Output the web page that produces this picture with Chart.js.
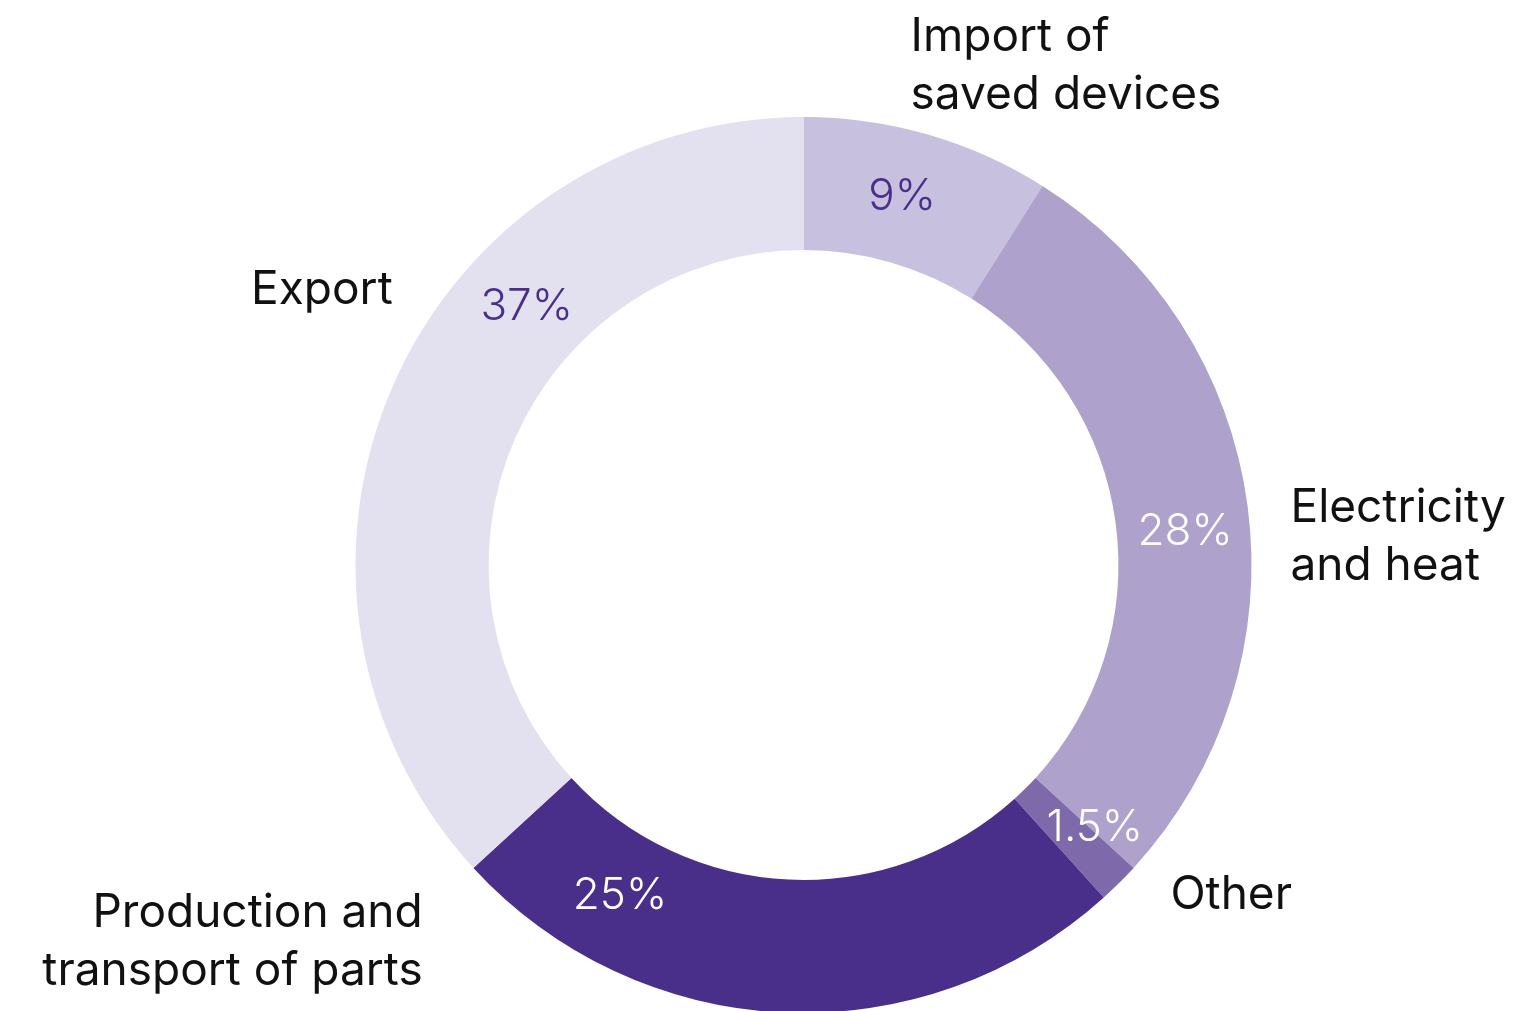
<!DOCTYPE html>
<html lang="en">
<head>
    <meta charset="UTF-8">
    <title>Emissions breakdown</title>
    <script src="https://cdn.jsdelivr.net/npm/chart.js"></script>
    <style>
        html, body {
            margin: 0;
            padding: 0;
            background: #ffffff;
            overflow: hidden;
        }
        .chart-wrap {
            position: relative;
            width: 1522px;
            height: 1020px;
        }
    </style>
</head>
<body>

<div class="chart-wrap">
    <canvas id="donut"></canvas>
</div>

<script>
// Segments, clockwise from the top
const labels = [
    ['Import of', 'saved devices'],
    ['Electricity', 'and heat'],
    ['Other'],
    ['Production and', 'transport of parts'],
    ['Export']
];
const shares = [9, 28, 1.5, 25, 37];
const shareText = ['9%', '28%', '1.5%', '25%', '37%'];

const sliceColors = ['#c7c0de', '#aea1cb', '#7e6aab', '#4a2f8a', '#e3e0ef'];
const valueColors = ['#4a2f8a', '#ffffff', '#ffffff', '#ffffff', '#4a2f8a'];

// where the % text sits: angle (deg, clockwise from top) and radius as share of outer radius
const valueAnchors = [
    { angle: 15, r: 0.85 },
    { angle: 85, r: 0.855 },
    { angle: 132, r: 0.875 },
    { angle: 209, r: 0.845 },
    { angle: 313, r: 0.845 }
];

// category names: offset from the centre in outer-radius units, plus alignment
const nameAnchors = [
    { dx: 0.239, dy: -1.179, align: 'left' },
    { dx: 1.087, dy: -0.127, align: 'left' },
    { dx: 0.819, dy: 0.737, align: 'left' },
    { dx: -0.850, dy: 0.777, align: 'right' },
    { dx: -0.917, dy: -0.614, align: 'right' }
];

const FONT = '"Inter", "Lato", sans-serif';

const ringLabels = {
    id: 'ringLabels',
    afterDatasetsDraw(chart) {
        const arc = chart.getDatasetMeta(0).data[0];
        const cx = arc.x, cy = arc.y, R = arc.outerRadius;
        const ctx = chart.ctx;
        ctx.save();
        ctx.textBaseline = 'middle';

        // percentages inside the ring
        ctx.font = '300 44px ' + FONT;
        ctx.textAlign = 'center';
        shareText.forEach((txt, i) => {
            const a = valueAnchors[i].angle * Math.PI / 180;
            const r = valueAnchors[i].r * R;
            ctx.fillStyle = valueColors[i];
            ctx.fillText(txt, cx + r * Math.sin(a), cy - r * Math.cos(a));
        });

        // category names outside
        ctx.font = '400 46px ' + FONT;
        ctx.fillStyle = '#111111';
        const lineH = 58;
        labels.forEach((lines, i) => {
            const p = nameAnchors[i];
            ctx.textAlign = p.align;
            lines.forEach((line, k) => {
                ctx.fillText(line, cx + p.dx * R, cy + p.dy * R + k * lineH);
            });
        });
        ctx.restore();
    }
};

new Chart(document.getElementById('donut'), {
    type: 'doughnut',
    data: {
        labels: labels.map(l => l.join(' ')),
        datasets: [{
            data: shares,
            backgroundColor: sliceColors,
            borderWidth: 0
        }]
    },
    options: {
        responsive: true,
        maintainAspectRatio: false,
        animation: false,
        cutout: '70.3%',
        layout: {
            padding: { left: 355, right: 270, top: 117, bottom: 7 }
        },
        plugins: {
            legend: { display: false },
            tooltip: { enabled: false }
        }
    },
    plugins: [ringLabels]
});
</script>
</body>
</html>
